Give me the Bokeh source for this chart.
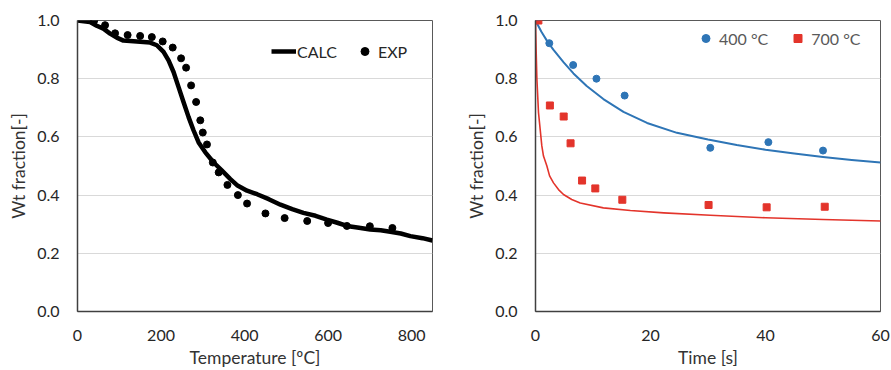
from bokeh.plotting import figure
from bokeh.models import Range1d, FixedTicker, PrintfTickFormatter, Legend, LegendItem
from bokeh.layouts import row
from bokeh.embed import file_html
from bokeh.resources import INLINE

# ---- Left chart: weight fraction vs temperature ----
calc_T = [0, 30, 46, 62, 78, 94, 110, 142, 174, 190, 206, 218, 230, 242, 254, 266, 278, 290, 306, 326, 346, 366,
          382, 406, 430, 458, 486, 514, 541, 570, 597, 622, 645, 674, 701, 726, 749, 774, 797, 826, 850]
calc_W = [1.0, 0.995, 0.982, 0.972, 0.955, 0.941, 0.931, 0.928, 0.924, 0.915, 0.892, 0.863, 0.823, 0.771, 0.719,
          0.668, 0.622, 0.581, 0.547, 0.512, 0.484, 0.455, 0.434, 0.415, 0.403, 0.386, 0.367, 0.352, 0.339, 0.329,
          0.316, 0.305, 0.294, 0.288, 0.282, 0.279, 0.274, 0.268, 0.259, 0.252, 0.244]
exp_T = [40, 66, 90, 120, 150, 178, 204, 228, 248, 260, 272, 284, 294, 300, 310, 324, 338, 359, 384, 406, 450, 496, 550, 600, 645, 700, 754]
exp_W = [1.0, 0.984, 0.956, 0.95, 0.947, 0.943, 0.928, 0.907, 0.870, 0.838, 0.777, 0.720, 0.657, 0.615, 0.574, 0.512,
         0.478, 0.435, 0.400, 0.371, 0.337, 0.321, 0.311, 0.304, 0.294, 0.293, 0.287]
temp_ticks = [0, 200, 400, 600, 800]

# ---- Right chart: weight fraction vs time ----
line400_t = [0, 1, 2, 3.1, 4.9, 6.6, 8.9, 11.8, 15.3, 19.4, 24.6, 30, 35, 40, 45, 50, 55, 60]
line400_w = [1.0, 0.962, 0.930, 0.900, 0.856, 0.818, 0.775, 0.730, 0.686, 0.648, 0.614, 0.591, 0.572, 0.556, 0.543, 0.531, 0.521, 0.512]
line700_t = [0, 0.05, 0.12, 0.24, 0.52, 1.1, 1.39, 1.98, 2.45, 3.13, 4.0, 4.87, 6.3, 7.78, 11.8, 16.5, 22.3, 30.4, 40, 50, 60]
line700_w = [1.0, 0.95, 0.89, 0.80, 0.684, 0.569, 0.534, 0.50, 0.466, 0.442, 0.419, 0.402, 0.385, 0.373, 0.356, 0.347,
             0.339, 0.331, 0.322, 0.316, 0.311]
pts400_t = [0, 2.4, 6.55, 10.6, 15.5, 30.4, 40.5, 50.0]
pts400_w = [1.0, 0.922, 0.847, 0.80, 0.742, 0.5625, 0.582, 0.553]
pts700_t = [0.5, 2.5, 4.9, 6.1, 8.1, 10.4, 15.1, 30.1, 40.2, 50.3]
pts700_w = [1.0, 0.708, 0.670, 0.578, 0.45, 0.423, 0.384, 0.366, 0.358, 0.360]
time_ticks = [0, 20, 40, 60]
wt_ticks = [0.0, 0.2, 0.4, 0.6, 0.8, 1.0]

FONT = "Lato"
BLUE = "#2E75B6"
RED = "#E3342B"


def style(p, xticks):
    p.outline_line_color = "#595959"
    p.outline_line_width = 1
    p.xgrid.visible = False
    p.ygrid.grid_line_color = "#d9d9d9"
    p.ygrid.grid_line_width = 1
    p.yaxis.ticker = FixedTicker(ticks=wt_ticks)
    p.yaxis.formatter = PrintfTickFormatter(format="%.1f")
    p.xaxis.ticker = FixedTicker(ticks=xticks)
    for ax in (p.xaxis, p.yaxis):
        ax.major_tick_out = 0
        ax.major_tick_in = 0
        ax.minor_tick_out = 0
        ax.minor_tick_in = 0
        ax.axis_line_color = "#404040"
        ax.axis_line_width = 1.5
        ax.major_label_text_font = FONT
        ax.major_label_text_font_size = "16px"
        ax.major_label_text_color = "#262626"
        ax.axis_label_text_font = FONT
        ax.axis_label_text_font_size = "17.5px"
        ax.axis_label_text_font_style = "normal"
        ax.axis_label_text_color = "#333333"
    p.yaxis.major_label_standoff = 18
    p.yaxis.axis_label_standoff = 5
    p.xaxis.major_label_standoff = 18
    p.xaxis.axis_label_standoff = 3


p1 = figure(width=445, height=370, output_backend="svg", toolbar_location=None,
            x_range=Range1d(0, 850), y_range=Range1d(0, 1.0),
            min_border_left=77, min_border_right=13, min_border_top=20, min_border_bottom=59,
            x_axis_label="Temperature [ºC]", y_axis_label="Wt fraction[-]")
style(p1, temp_ticks)
r_calc = p1.line(calc_T, calc_W, line_color="black", line_width=4.5, line_join="round")
r_exp = p1.scatter(exp_T, exp_W, marker="circle", size=7, fill_color="black", line_color="black")
leg1 = Legend(items=[LegendItem(label="CALC", renderers=[r_calc]),
                     LegendItem(label="EXP", renderers=[r_exp])],
              orientation="horizontal", location=(194, 250),
              glyph_width=25, glyph_height=20, label_standoff=1, spacing=15,
              padding=0, margin=0, border_line_alpha=0, background_fill_alpha=0,
              label_text_font=FONT, label_text_font_size="16px", label_text_color="#262626")
p1.add_layout(leg1)

p2 = figure(width=446, height=370, output_backend="svg", toolbar_location=None,
            x_range=Range1d(0, 60), y_range=Range1d(0, 1.0),
            min_border_left=90, min_border_right=11, min_border_top=20, min_border_bottom=59,
            x_axis_label="Time [s]", y_axis_label="Wt fraction[-]")
style(p2, time_ticks)
p2.line(line400_t, line400_w, line_color=BLUE, line_width=2, line_join="round")
p2.line(line700_t, line700_w, line_color=RED, line_width=1.6, line_join="round")
r400 = p2.scatter(pts400_t, pts400_w, marker="circle", size=7, fill_color=BLUE, line_color=BLUE)
r700 = p2.scatter(pts700_t, pts700_w, marker="square", size=7, fill_color=RED, line_color=RED)
leg2 = Legend(items=[LegendItem(label="400 °C", renderers=[r400]),
                     LegendItem(label="700 °C", renderers=[r700])],
              orientation="horizontal", location=(158, 263),
              glyph_width=25, glyph_height=20, label_standoff=1, spacing=17,
              padding=0, margin=0, border_line_alpha=0, background_fill_alpha=0,
              label_text_font=FONT, label_text_font_size="16px", label_text_color="#595959")
p2.add_layout(leg2)

layout = row(p1, p2)
open("out.html", "w").write(file_html(layout, INLINE))
